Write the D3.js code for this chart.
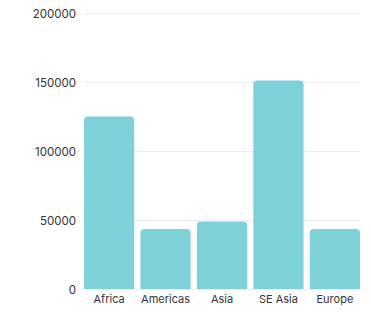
<!DOCTYPE html>
<html><head><meta charset="utf-8">
<script src="https://cdn.jsdelivr.net/npm/d3@7"></script>
<style>body{margin:0;background:#fff}svg{display:block}</style>
</head><body><svg id="c" width="371" height="317"></svg>
<script>
const categories = ["Africa","Americas","Asia","SE Asia","Europe"];
const values = [125000, 43500, 49000, 151000, 43500];
const yTicks = [0, 50000, 100000, 150000, 200000];

const svg = d3.select("#c");
const x = d3.scaleBand().domain(categories).range([84, 360]).paddingInner(0.11).paddingOuter(0);
const y = d3.scaleLinear().domain([0, 200000]).range([289, 13]);
const font = "Inter, 'Open Sans', sans-serif";

svg.append("g").selectAll("line").data(yTicks).join("line")
  .attr("x1", 85).attr("x2", 360)
  .attr("y1", d => y(d) + 0.5).attr("y2", d => y(d) + 0.5)
  .attr("stroke", "#ececec").attr("stroke-width", 1);

const yAxis = d3.axisLeft(y).tickValues(yTicks).tickSize(0).tickPadding(0).tickFormat(d => String(d));
const gy = svg.append("g").attr("transform", "translate(76,0.5)").call(yAxis);
gy.select(".domain").remove();
gy.selectAll("text").attr("font-family", font).attr("font-size", 11.5).attr("fill", "#333");

const r = 4;
svg.append("g").selectAll("path").data(values).join("path")
  .attr("fill", "#7fd1d9")
  .attr("d", (d, i) => {
    const x0 = x(categories[i]), w = x.bandwidth(), y0 = y(d), y1 = y(0);
    return `M${x0},${y1}V${y0 + r}Q${x0},${y0} ${x0 + r},${y0}H${x0 + w - r}Q${x0 + w},${y0} ${x0 + w},${y0 + r}V${y1}Z`;
  });

const xAxis = d3.axisBottom(x).tickSize(0).tickPadding(0);
const gx = svg.append("g").attr("transform", "translate(0,295.5)").call(xAxis);
gx.select(".domain").remove();
gx.selectAll("text").attr("font-family", font).attr("font-size", 11).attr("fill", "#333");
</script></body></html>
